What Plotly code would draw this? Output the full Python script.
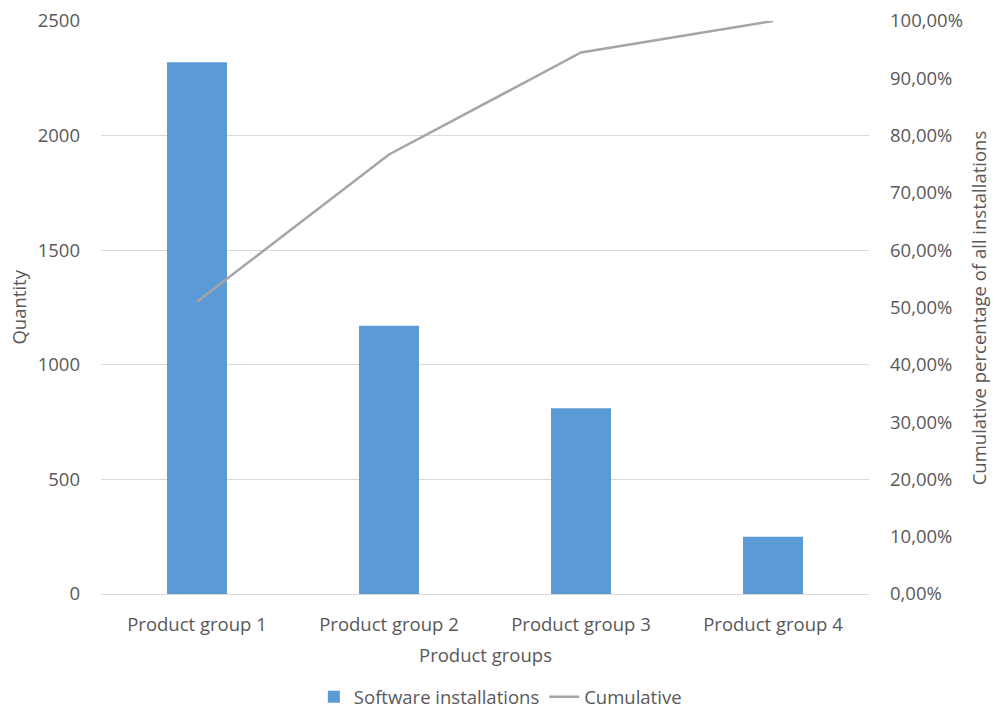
import plotly.graph_objects as go

categories = ["Product group 1", "Product group 2", "Product group 3", "Product group 4"]
installations = [2320, 1170, 810, 250]
cumulative = [0.510, 0.767, 0.945, 1.000]

FONT = "Open Sans"
TXT = "#595959"
FS = 18.5

fig = go.Figure()
fig.add_trace(go.Bar(x=categories, y=installations, name="Software installations",
                     marker=dict(color="#5B9BD5", line=dict(width=0)), yaxis="y"))
fig.add_trace(go.Scatter(x=categories, y=cumulative, name="Cumulative", mode="lines",
                         line=dict(color="#A5A5A5", width=2.5), yaxis="y2"))

fig.update_layout(
    width=995, height=709,
    margin=dict(l=101, r=126, t=21, b=115, autoexpand=False),
    paper_bgcolor="white", plot_bgcolor="white",
    separators=",.",
    font=dict(family=FONT, size=FS, color=TXT),
    bargap=0.6875,
    showlegend=True,
    legend=dict(orientation="h", x=0.52, xanchor="center", y=-0.18, yanchor="middle",
                font=dict(size=FS, color=TXT), traceorder="normal"),
    xaxis=dict(showgrid=False, showline=True, linecolor="#D9D9D9", linewidth=1,
               ticks="", ticklabelstandoff=14, automargin=False,
               tickfont=dict(size=FS, color=TXT)),
    yaxis=dict(range=[0, 2500], dtick=500, showgrid=True, gridcolor="#D9D9D9", gridwidth=1,
               zeroline=False, showline=False, ticks="", tickformat="d",
               ticklabelstandoff=20, automargin=False,
               tickfont=dict(size=FS, color=TXT)),
    yaxis2=dict(overlaying="y", side="right", range=[0, 1], dtick=0.1, tickformat=".2%",
                showgrid=False, zeroline=False, showline=False, ticks="",
                ticklabelstandoff=20, automargin=False,
                tickfont=dict(size=FS, color=TXT)),
    annotations=[
        dict(text="Product groups", xref="paper", yref="paper", x=0.5, y=-0.105,
             xanchor="center", yanchor="middle", showarrow=False,
             font=dict(size=FS, color=TXT)),
        dict(text="Quantity", xref="paper", yref="paper", x=-0.108, y=0.5,
             xanchor="center", yanchor="middle", textangle=-90, showarrow=False,
             font=dict(size=FS, color=TXT)),
        dict(text="Cumulative percentage of all installations", xref="paper", yref="paper",
             x=1.143, y=0.5, xanchor="center", yanchor="middle", textangle=-90,
             showarrow=False, font=dict(size=FS, color=TXT)),
    ],
)

fig.write_html("out.html")
